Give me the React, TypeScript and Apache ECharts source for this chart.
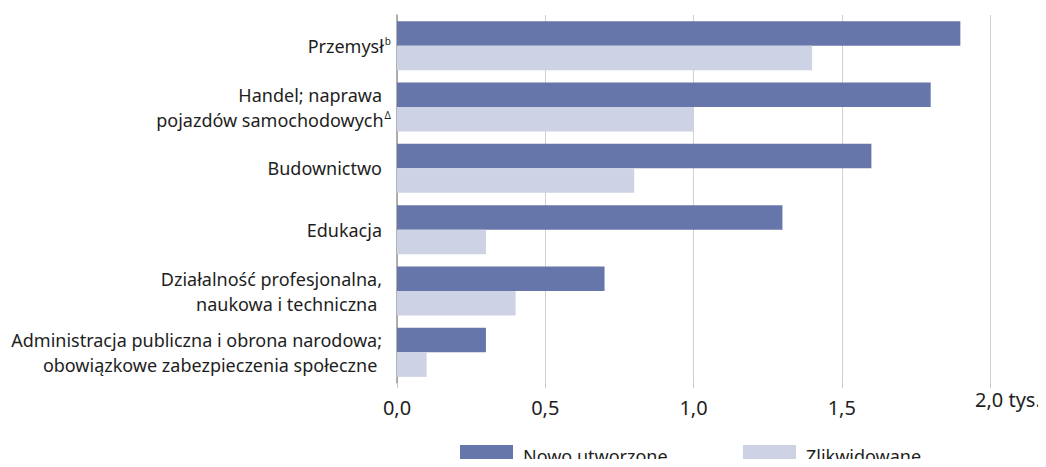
import React, { useEffect, useRef } from "react";
import * as echarts from "echarts";

const categories = [
  "{ts|Przemysł}{sup|b}",
  "{t|Handel; naprawa}\n{ts|pojazdów samochodowych}{sup|Δ}",
  "{t|Budownictwo}",
  "{t|Edukacja}",
  "{t|Działalność profesjonalna,}\n{t|naukowa i techniczna }",
  "{t|Administracja publiczna i obrona narodowa;}\n{t|obowiązkowe zabezpieczenia społeczne }",
];
const newlyCreated = [1.9, 1.8, 1.6, 1.3, 0.7, 0.3];
const liquidated = [1.4, 1.0, 0.8, 0.3, 0.4, 0.1];
const seriesNames = ["Nowo utworzone", "Zlikwidowane"];
const tickLabels: Record<string, string> = { "0": "0,0", "0.5": "0,5", "1": "1,0", "1.5": "1,5", "2": "" };
const unitLabel = "2,0 tys.";

const FONT = "Noto Sans";
const DARK = "#6676aa";
const LIGHT = "#cdd3e5";
const TEXT = "#1e1e1e";

export default function App() {
  const ref = useRef<HTMLDivElement>(null);
  useEffect(() => {
    if (!ref.current) return;
    const chart = echarts.init(ref.current, undefined, { renderer: "svg" });
    const legendBase = {
      top: 445,
      padding: 0,
      itemWidth: 53,
      itemHeight: 22,
      icon: "rect",
      textStyle: { fontFamily: FONT, fontSize: 18, color: TEXT, padding: [0, 0, 0, 5] },
    };
    chart.setOption({
      animation: false,
      textStyle: { fontFamily: FONT },
      grid: { left: 397, right: 56, top: 15, bottom: 84, containLabel: false },
      legend: [
        { ...legendBase, data: [seriesNames[0]], left: 460 },
        { ...legendBase, data: [seriesNames[1]], left: 743 },
      ],
      xAxis: {
        type: "value",
        min: 0,
        max: 2,
        interval: 0.5,
        axisLine: { show: false },
        axisTick: { show: true, length: 5, lineStyle: { color: "#c8c8c8" } },
        splitLine: { show: true, lineStyle: { color: "#d0d0d0", width: 1 } },
        axisLabel: {
          margin: 14,
          fontFamily: FONT,
          fontSize: 20,
          color: TEXT,
          formatter: (v: number) => tickLabels[String(v)] ?? "",
        },
      },
      yAxis: {
        type: "category",
        data: categories,
        inverse: true,
        axisLine: { show: true, lineStyle: { color: "#999", width: 1.5 } },
        axisTick: { show: false },
        axisLabel: {
          margin: 6,
          align: "right",
          fontFamily: FONT,
          rich: {
            t: { fontFamily: FONT, fontSize: 18, color: TEXT, lineHeight: 25, align: "right", padding: [0, 9, 0, 0] },
            ts: { fontFamily: FONT, fontSize: 18, color: TEXT, lineHeight: 25, align: "right" },
            sup: { fontFamily: FONT, fontSize: 10, color: TEXT, verticalAlign: "top", lineHeight: 12, padding: [3, 0, 0, 1] },
          },
        },
      },
      series: [
        {
          name: seriesNames[0],
          type: "bar",
          data: newlyCreated,
          itemStyle: { color: DARK },
          barGap: "0%",
          barCategoryGap: "20%",
        },
        {
          name: seriesNames[1],
          type: "bar",
          data: liquidated,
          itemStyle: { color: LIGHT },
          barGap: "0%",
          barCategoryGap: "20%",
        },
      ],
      graphic: [
        {
          type: "text",
          left: 975,
          top: 389,
          style: { text: unitLabel, fontFamily: FONT, fontSize: 20, fill: TEXT },
        },
      ],
    });
    return () => chart.dispose();
  }, []);
  return <div ref={ref} style={{ width: 1046, height: 467, margin: -8 }} />;
}
